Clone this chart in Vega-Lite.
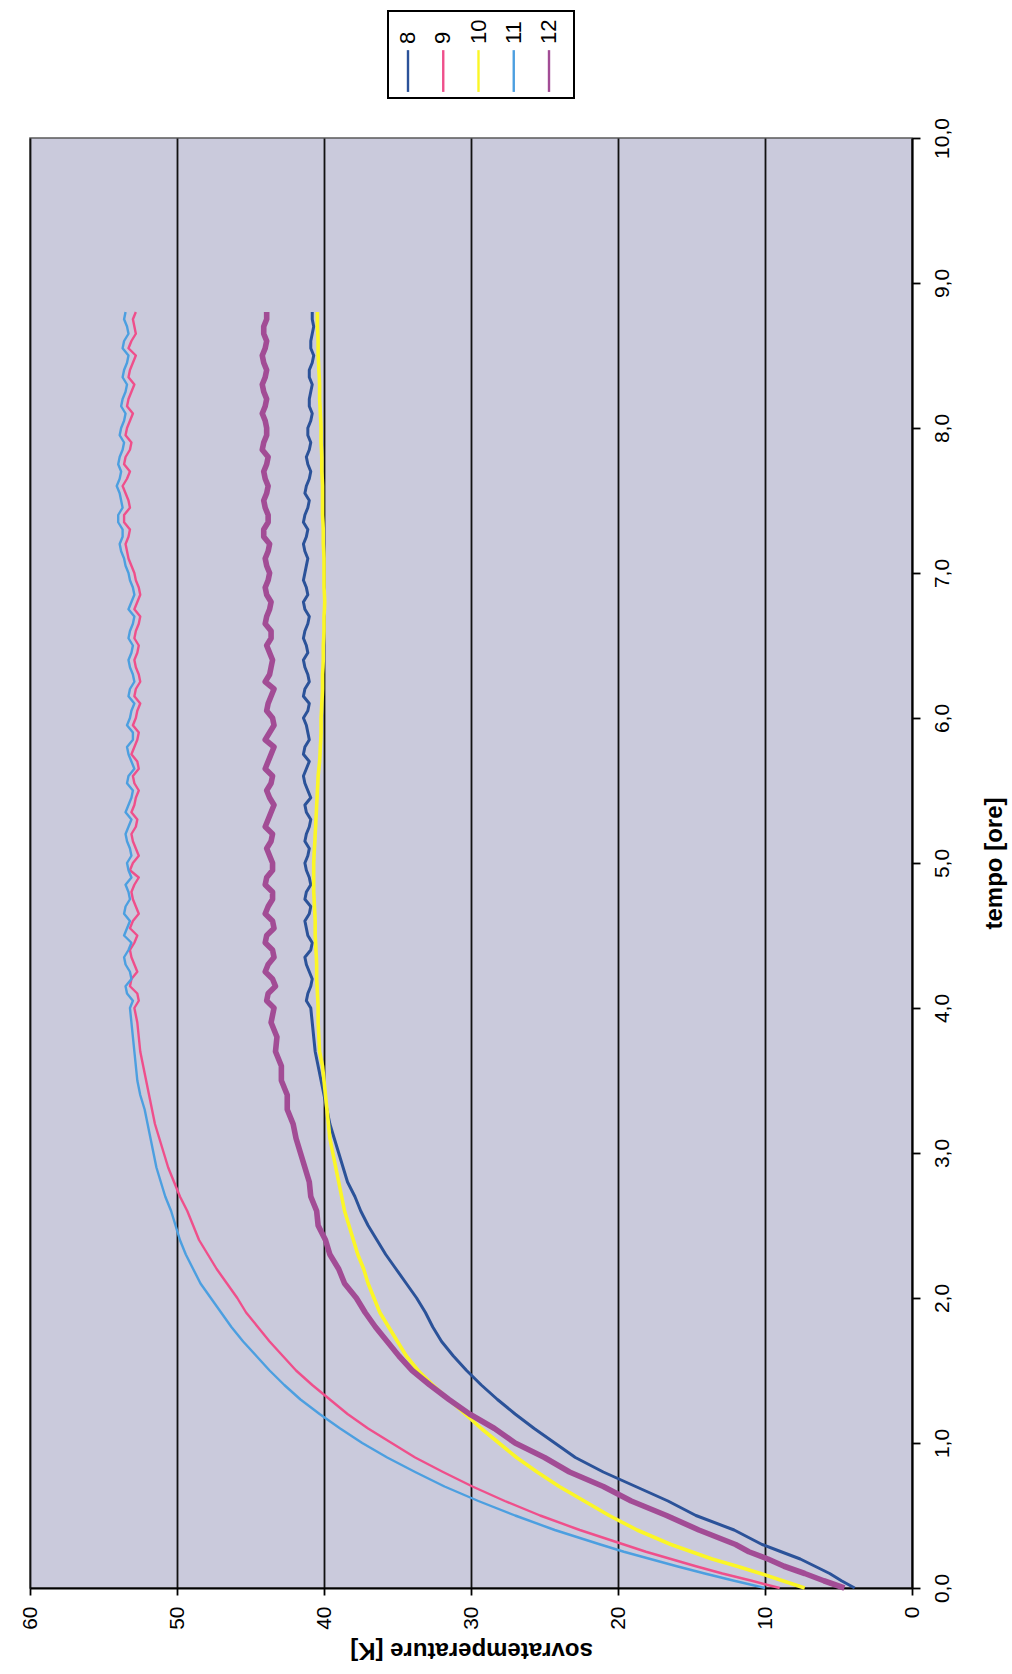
{
  "$schema": "https://vega.github.io/schema/vega-lite/v6.json",
  "width": 882,
  "height": 1450,
  "padding": {"left": 19, "top": 10, "right": 2, "bottom": 2},
  "autosize": {"type": "pad"},
  "background": "white",
  "config": {
    "font": "Liberation Sans",
    "view": {"fill": "#cacadc", "stroke": "#5a5a5a", "strokeWidth": 1.5}
  },
  "datasets": {
    "main": [
      {"t":0,"8":3.9,"9":9.0,"10":7.3,"11":10.0,"12":4.6},
      {"t":0.05,"8":4.8,"9":10.9,"10":8.8,"11":12.1,"12":6.0},
      {"t":0.1,"8":5.6,"9":12.9,"10":10.3,"11":14.1,"12":7.3},
      {"t":0.15,"8":6.6,"9":14.7,"10":11.9,"11":16.0,"12":8.7},
      {"t":0.2,"8":7.6,"9":16.4,"10":13.6,"11":17.8,"12":9.8},
      {"t":0.25,"8":8.9,"9":18.1,"10":15.0,"11":19.6,"12":11.1},
      {"t":0.3,"8":10.2,"9":19.6,"10":16.4,"11":21.2,"12":12.0},
      {"t":0.4,"8":12.1,"9":22.6,"10":18.7,"11":24.3,"12":14.5},
      {"t":0.5,"8":14.7,"9":25.3,"10":20.6,"11":27.0,"12":16.7},
      {"t":0.6,"8":16.6,"9":27.7,"10":22.3,"11":29.5,"12":19.1},
      {"t":0.7,"8":18.8,"9":29.9,"10":24.0,"11":31.8,"12":21.0},
      {"t":0.8,"8":21.0,"9":31.9,"10":25.5,"11":33.8,"12":23.3},
      {"t":0.9,"8":22.9,"9":33.8,"10":26.9,"11":35.7,"12":25.0},
      {"t":1.0,"8":24.3,"9":35.4,"10":28.1,"11":37.4,"12":27.0},
      {"t":1.1,"8":25.7,"9":37.0,"10":29.3,"11":38.9,"12":28.4},
      {"t":1.2,"8":27.0,"9":38.4,"10":30.4,"11":40.3,"12":30.1},
      {"t":1.3,"8":28.2,"9":39.6,"10":31.5,"11":41.6,"12":31.5},
      {"t":1.4,"8":29.3,"9":40.8,"10":32.6,"11":42.7,"12":32.8},
      {"t":1.5,"8":30.3,"9":41.9,"10":33.6,"11":43.7,"12":34.0},
      {"t":1.6,"8":31.2,"9":42.8,"10":34.4,"11":44.6,"12":34.9},
      {"t":1.7,"8":32.0,"9":43.7,"10":35.0,"11":45.5,"12":35.7},
      {"t":1.8,"8":32.6,"9":44.5,"10":35.6,"11":46.3,"12":36.5},
      {"t":1.9,"8":33.1,"9":45.3,"10":36.2,"11":47.0,"12":37.2},
      {"t":2.0,"8":33.7,"9":45.9,"10":36.6,"11":47.7,"12":37.8},
      {"t":2.1,"8":34.4,"9":46.6,"10":37.0,"11":48.4,"12":38.6},
      {"t":2.2,"8":35.1,"9":47.3,"10":37.3,"11":48.9,"12":39.0},
      {"t":2.3,"8":35.8,"9":47.9,"10":37.7,"11":49.4,"12":39.6},
      {"t":2.4,"8":36.4,"9":48.5,"10":38.0,"11":49.8,"12":39.9},
      {"t":2.5,"8":37.0,"9":48.9,"10":38.3,"11":50.1,"12":40.4},
      {"t":2.6,"8":37.5,"9":49.3,"10":38.6,"11":50.4,"12":40.5},
      {"t":2.7,"8":37.9,"9":49.8,"10":38.8,"11":50.8,"12":40.9},
      {"t":2.8,"8":38.4,"9":50.2,"10":39.0,"11":51.1,"12":41.0},
      {"t":2.9,"8":38.7,"9":50.6,"10":39.2,"11":51.4,"12":41.3},
      {"t":3.0,"8":39.0,"9":50.9,"10":39.4,"11":51.6,"12":41.6},
      {"t":3.1,"8":39.3,"9":51.2,"10":39.6,"11":51.8,"12":41.9},
      {"t":3.2,"8":39.6,"9":51.5,"10":39.7,"11":52.0,"12":42.1},
      {"t":3.3,"8":39.8,"9":51.7,"10":39.8,"11":52.2,"12":42.5},
      {"t":3.4,"8":40.0,"9":51.9,"10":39.9,"11":52.5,"12":42.5},
      {"t":3.5,"8":40.2,"9":52.1,"10":40.0,"11":52.7,"12":42.9},
      {"t":3.6,"8":40.4,"9":52.3,"10":40.1,"11":52.8,"12":42.9},
      {"t":3.7,"8":40.6,"9":52.5,"10":40.3,"11":52.9,"12":43.3},
      {"t":3.8,"8":40.7,"9":52.6,"10":40.35,"11":53.0,"12":43.2},
      {"t":3.9,"8":40.8,"9":52.7,"10":40.4,"11":53.1,"12":43.6},
      {"t":4.0,"8":40.9,"9":52.9,"10":40.4,"11":53.2,"12":43.4},
      {"t":4.1,"8":41.1,"9":52.7,"10":40.45,"11":53.4,"12":43.8},
      {"t":4.2,"8":40.8,"9":53.1,"10":40.5,"11":53.1,"12":43.5},
      {"t":4.3,"8":41.2,"9":52.9,"10":40.5,"11":53.5,"12":43.8},
      {"t":4.4,"8":40.9,"9":53.2,"10":40.55,"11":53.3,"12":43.5},
      {"t":4.5,"8":41.1,"9":52.7,"10":40.6,"11":53.6,"12":43.9},
      {"t":4.6,"8":41.3,"9":53.0,"10":40.6,"11":53.2,"12":43.5},
      {"t":4.7,"8":40.9,"9":52.8,"10":40.65,"11":53.5,"12":43.8},
      {"t":4.8,"8":41.2,"9":53.1,"10":40.7,"11":53.3,"12":43.5},
      {"t":4.9,"8":41.0,"9":52.6,"10":40.7,"11":53.1,"12":43.9},
      {"t":5.0,"8":41.3,"9":53.0,"10":40.7,"11":53.4,"12":43.5},
      {"t":5.1,"8":41.0,"9":52.8,"10":40.65,"11":53.2,"12":43.9},
      {"t":5.2,"8":41.2,"9":53.1,"10":40.6,"11":53.5,"12":43.5},
      {"t":5.3,"8":40.9,"9":52.7,"10":40.55,"11":53.1,"12":43.8},
      {"t":5.4,"8":41.3,"9":52.9,"10":40.5,"11":53.3,"12":43.4},
      {"t":5.5,"8":41.1,"9":52.6,"10":40.45,"11":53.0,"12":43.9},
      {"t":5.6,"8":41.4,"9":53.0,"10":40.4,"11":53.3,"12":43.5},
      {"t":5.7,"8":41.0,"9":52.7,"10":40.3,"11":53.1,"12":43.8},
      {"t":5.8,"8":41.3,"9":52.9,"10":40.25,"11":53.4,"12":43.4},
      {"t":5.9,"8":41.1,"9":52.6,"10":40.2,"11":53.0,"12":43.7},
      {"t":6.0,"8":41.4,"9":52.8,"10":40.2,"11":53.2,"12":43.5},
      {"t":6.1,"8":41.0,"9":52.5,"10":40.15,"11":52.9,"12":43.8},
      {"t":6.2,"8":41.3,"9":52.8,"10":40.1,"11":53.2,"12":43.4},
      {"t":6.3,"8":41.1,"9":52.6,"10":40.1,"11":53.0,"12":43.7},
      {"t":6.4,"8":41.4,"9":52.9,"10":40.05,"11":53.3,"12":43.5},
      {"t":6.5,"8":41.2,"9":52.6,"10":40.05,"11":53.0,"12":43.9},
      {"t":6.6,"8":41.3,"9":52.8,"10":40.0,"11":53.2,"12":43.6},
      {"t":6.7,"8":41.0,"9":52.5,"10":40.0,"11":52.9,"12":43.9},
      {"t":6.8,"8":41.4,"9":52.7,"10":39.95,"11":53.1,"12":43.6},
      {"t":6.9,"8":41.2,"9":52.6,"10":40.0,"11":53.0,"12":44.0},
      {"t":7.0,"8":41.3,"9":52.9,"10":40.0,"11":53.3,"12":43.7},
      {"t":7.1,"8":41.1,"9":53.3,"10":40.0,"11":53.6,"12":44.0},
      {"t":7.2,"8":41.4,"9":53.5,"10":40.05,"11":53.9,"12":43.7},
      {"t":7.3,"8":41.1,"9":53.2,"10":40.05,"11":53.7,"12":44.1},
      {"t":7.4,"8":41.3,"9":53.6,"10":40.1,"11":54.0,"12":43.8},
      {"t":7.5,"8":41.0,"9":53.3,"10":40.1,"11":53.8,"12":44.1},
      {"t":7.6,"8":41.2,"9":53.7,"10":40.1,"11":54.1,"12":43.8},
      {"t":7.7,"8":40.9,"9":53.2,"10":40.15,"11":53.8,"12":44.1},
      {"t":7.8,"8":41.2,"9":53.5,"10":40.15,"11":53.9,"12":43.8},
      {"t":7.9,"8":40.9,"9":53.1,"10":40.2,"11":53.6,"12":44.1},
      {"t":8.0,"8":41.1,"9":53.4,"10":40.2,"11":53.8,"12":43.9},
      {"t":8.1,"8":40.8,"9":53.0,"10":40.25,"11":53.5,"12":44.2},
      {"t":8.2,"8":41.0,"9":53.3,"10":40.3,"11":53.7,"12":43.9},
      {"t":8.3,"8":40.8,"9":52.9,"10":40.3,"11":53.4,"12":44.2},
      {"t":8.4,"8":41.0,"9":53.2,"10":40.35,"11":53.6,"12":43.9},
      {"t":8.5,"8":40.7,"9":52.8,"10":40.4,"11":53.3,"12":44.2},
      {"t":8.6,"8":40.9,"9":53.1,"10":40.4,"11":53.6,"12":43.9},
      {"t":8.7,"8":40.7,"9":52.9,"10":40.45,"11":53.4,"12":44.1},
      {"t":8.8,"8":40.8,"9":52.8,"10":40.45,"11":53.5,"12":43.9},
      {"t":4.05,"8":41.2,"9":52.6,"10":40.42,"11":53.0,"12":43.9},
      {"t":4.15,"8":40.9,"9":53.2,"10":40.47,"11":53.5,"12":43.3},
      {"t":4.25,"8":41.0,"9":52.7,"10":40.5,"11":53.2,"12":44.0},
      {"t":4.35,"8":41.3,"9":53.1,"10":40.52,"11":53.6,"12":43.4},
      {"t":4.45,"8":40.8,"9":52.9,"10":40.57,"11":53.1,"12":44.0},
      {"t":4.55,"8":41.2,"9":53.2,"10":40.6,"11":53.4,"12":43.4},
      {"t":4.65,"8":41.0,"9":52.6,"10":40.62,"11":53.6,"12":44.0},
      {"t":4.75,"8":41.3,"9":53.0,"10":40.67,"11":53.2,"12":43.5},
      {"t":4.85,"8":40.9,"9":52.9,"10":40.7,"11":53.5,"12":44.0},
      {"t":4.95,"8":41.2,"9":53.2,"10":40.7,"11":53.3,"12":43.5},
      {"t":5.05,"8":41.1,"9":52.6,"10":40.68,"11":53.1,"12":43.7},
      {"t":5.15,"8":41.3,"9":53.0,"10":40.62,"11":53.4,"12":43.6},
      {"t":5.25,"8":41.0,"9":52.8,"10":40.57,"11":53.3,"12":44.0},
      {"t":5.35,"8":41.2,"9":53.1,"10":40.52,"11":53.5,"12":43.6},
      {"t":5.45,"8":40.9,"9":52.8,"10":40.47,"11":53.1,"12":43.7},
      {"t":5.55,"8":41.3,"9":52.9,"10":40.42,"11":53.4,"12":43.6},
      {"t":5.65,"8":41.2,"9":52.6,"10":40.35,"11":52.9,"12":44.0},
      {"t":5.75,"8":41.4,"9":53.1,"10":40.27,"11":53.3,"12":43.6},
      {"t":5.85,"8":41.0,"9":52.7,"10":40.22,"11":53.0,"12":44.0},
      {"t":5.95,"8":41.2,"9":53.0,"10":40.2,"11":53.4,"12":43.4},
      {"t":6.05,"8":41.1,"9":52.7,"10":40.17,"11":53.1,"12":43.9},
      {"t":6.15,"8":41.4,"9":52.9,"10":40.12,"11":53.3,"12":43.6},
      {"t":6.25,"8":41.0,"9":52.5,"10":40.1,"11":52.9,"12":44.0},
      {"t":6.35,"8":41.3,"9":52.8,"10":40.07,"11":53.2,"12":43.6},
      {"t":6.45,"8":41.1,"9":52.7,"10":40.05,"11":53.1,"12":43.7},
      {"t":6.55,"8":41.4,"9":52.9,"10":40.02,"11":53.3,"12":43.6},
      {"t":6.65,"8":41.1,"9":52.6,"10":40.0,"11":53.0,"12":44.0},
      {"t":6.75,"8":41.3,"9":52.9,"10":39.97,"11":53.3,"12":43.7},
      {"t":6.85,"8":41.1,"9":52.5,"10":39.97,"11":52.9,"12":43.9},
      {"t":6.95,"8":41.4,"9":52.8,"10":40.0,"11":53.2,"12":43.8},
      {"t":7.05,"8":41.2,"9":53.1,"10":40.0,"11":53.5,"12":43.9},
      {"t":7.15,"8":41.3,"9":53.4,"10":40.02,"11":53.8,"12":43.8},
      {"t":7.25,"8":41.2,"9":53.3,"10":40.05,"11":53.7,"12":44.1},
      {"t":7.35,"8":41.4,"9":53.6,"10":40.07,"11":54.0,"12":43.8},
      {"t":7.45,"8":41.1,"9":53.2,"10":40.1,"11":53.7,"12":44.0},
      {"t":7.55,"8":41.3,"9":53.5,"10":40.1,"11":53.9,"12":43.9},
      {"t":7.65,"8":41.0,"9":53.4,"10":40.12,"11":53.9,"12":44.0},
      {"t":7.75,"8":41.1,"9":53.6,"10":40.15,"11":54.0,"12":43.9},
      {"t":7.85,"8":41.0,"9":53.2,"10":40.17,"11":53.7,"12":44.2},
      {"t":7.95,"8":41.1,"9":53.5,"10":40.2,"11":53.9,"12":43.9},
      {"t":8.05,"8":40.9,"9":53.2,"10":40.22,"11":53.6,"12":44.0},
      {"t":8.15,"8":41.0,"9":53.4,"10":40.27,"11":53.8,"12":44.0},
      {"t":8.25,"8":40.9,"9":53.1,"10":40.3,"11":53.5,"12":44.1},
      {"t":8.35,"8":41.0,"9":53.3,"10":40.32,"11":53.7,"12":44.0},
      {"t":8.45,"8":40.8,"9":53.0,"10":40.37,"11":53.4,"12":44.1},
      {"t":8.55,"8":40.9,"9":53.3,"10":40.4,"11":53.7,"12":44.0},
      {"t":8.65,"8":40.8,"9":52.8,"10":40.42,"11":53.3,"12":44.1},
      {"t":8.75,"8":40.8,"9":53.0,"10":40.45,"11":53.6,"12":43.9}
    ],
    "leg": [{"s":"8"},{"s":"9"},{"s":"10"},{"s":"11"},{"s":"12"}],
    "box": [{"k":1}]
  },
  "layer": [
    {
      "data": {"name": "main"},
      "transform": [{"fold": ["8","9","10","11","12"], "as": ["s","v"]}],
      "mark": {"type": "line", "strokeJoin": "round"},
      "encoding": {
        "x": {
          "field": "v", "type": "quantitative",
          "scale": {"domain": [0, 60], "reverse": true, "nice": false, "zero": false},
          "axis": {
            "values": [0,10,20,30,40,50,60],
            "labelAngle": 270, "labelAlign": "right", "labelBaseline": "middle",
            "labelFontSize": 21, "labelColor": "black", "labelPadding": 11,
            "labelFlush": false, "labelOverlap": false,
            "tickSize": 7, "tickColor": "black", "tickWidth": 1.8,
            "domainColor": "black", "domainWidth": 1.8,
            "grid": true, "gridColor": "#111111", "gridWidth": 1.8,
            "title": "sovratemperature [K]", "titleAngle": 180, "titleBaseline": "bottom",
            "titleFontSize": 24, "titleFontWeight": "bold", "titleColor": "black", "titlePadding": 8
          }
        },
        "y": {
          "field": "t", "type": "quantitative",
          "scale": {"domain": [0, 10], "nice": false},
          "axis": {
            "orient": "right",
            "values": [0,1,2,3,4,5,6,7,8,9,10],
            "labelExpr": "replace(format(datum.value, '.1f'), '.', ',')",
            "labelAngle": 270, "labelAlign": "center", "labelBaseline": "top",
            "labelFontSize": 21, "labelColor": "black", "labelPadding": 11,
            "labelOverlap": false,
            "tickSize": 8, "tickColor": "black", "tickWidth": 1.8,
            "domainColor": "black", "domainWidth": 1.8,
            "grid": false,
            "title": "tempo [ore]", "titleAngle": 270, "titleBaseline": "top",
            "titleFontSize": 24, "titleFontWeight": "bold", "titleColor": "black", "titlePadding": 30
          }
        },
        "color": {
          "field": "s", "type": "nominal",
          "scale": {"domain": ["8","9","10","11","12"], "range": ["#2b5299","#ef4f8b","#fbf626","#4c9fe0","#a24c95"]},
          "legend": null
        },
        "strokeWidth": {
          "field": "s", "type": "ordinal",
          "scale": {"type": "ordinal", "domain": ["8","9","10","11","12"], "range": [3.0, 2.4, 3.6, 2.4, 5.6]},
          "legend": null
        },
        "order": {"field": "t", "type": "quantitative"}
      }
    },
    {
      "data": {"name": "leg"},
      "layer": [
        {
          "mark": {"type": "rule"},
          "encoding": {
            "x": {"field": "s", "type": "nominal", "scale": {"type": "point", "domain": ["8","9","10","11","12"], "range": [378, 519], "padding": 0}, "axis": null},
            "y": {"datum": 0.07, "type": "quantitative", "scale": {"domain": [0, 1], "range": [-40, -127]}, "axis": null},
            "y2": {"datum": 0.55},
            "color": {"field": "s", "type": "nominal", "legend": null},
            "strokeWidth": {"value": 2.4}
          }
        },
        {
          "mark": {"type": "text", "angle": 270, "align": "left", "baseline": "middle", "fontSize": 22, "color": "black"},
          "encoding": {
            "x": {"field": "s", "type": "nominal", "scale": {"type": "point", "domain": ["8","9","10","11","12"], "range": [378, 519], "padding": 0}, "axis": null},
            "y": {"datum": 0.62, "type": "quantitative", "scale": {"domain": [0, 1], "range": [-40, -127]}, "axis": null},
            "text": {"field": "s"}
          }
        }
      ]
    },
    {
      "data": {"name": "box"},
      "mark": {"type": "rect", "fill": "white", "fillOpacity": 0, "stroke": "black", "strokeWidth": 2},
      "encoding": {
        "x": {"datum": 0, "type": "quantitative", "scale": {"domain": [0, 1], "range": [358, 544]}, "axis": null},
        "x2": {"datum": 1},
        "y": {"datum": 0, "type": "quantitative", "scale": {"domain": [0, 1], "range": [-40, -127]}, "axis": null},
        "y2": {"datum": 1}
      }
    }
  ],
  "resolve": {"scale": {"x": "independent", "y": "independent"}}
}
